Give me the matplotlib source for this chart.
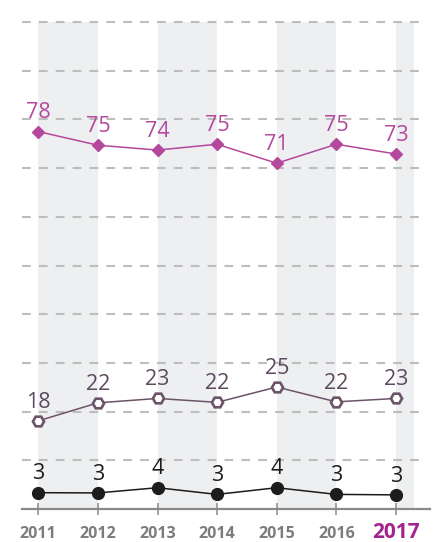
import matplotlib
matplotlib.use("Agg")
import matplotlib.pyplot as plt

plt.rcParams['font.family'] = ['Open Sans', 'DejaVu Sans']

years = [2011, 2012, 2013, 2014, 2015, 2016, 2017]
year_labels = ['2011', '2012', '2013', '2014', '2015', '2016', '2017']
pink_values = [77.5, 74.7, 73.7, 74.9, 71.0, 74.9, 72.9]
hex_values = [18.1, 21.8, 22.7, 21.9, 25.05, 22.0, 22.7]
black_values = [3.35, 3.3, 4.37, 3.0, 4.37, 3.0, 2.9]
grid_values = [10, 20, 30, 40, 50, 60, 70, 80, 90, 100]

PINK = '#b4489c'
HEX = '#6b5468'
HEX_TXT = '#5e4a5e'
BLACK = '#1c1c1c'
GRAY = '#7c7c7c'
PURPLE = '#a3238e'
BAND = '#eeeff1'
GRID = '#bdbdbd'

fig = plt.figure(figsize=(4.38, 5.42), dpi=100)
ax = fig.add_axes([21.7 / 438, (542 - 509) / 542, (430 - 21.7) / 438, (509 - 22) / 542])
x_left, x_right = 2010.7215, 2017.572
ax.set_xlim(x_left, x_right)
ax.set_ylim(0, 100)

# background bands
for i, y in enumerate(years):
    if i % 2 == 0:
        end = y + 1 if y + 1 <= years[-1] else y + 0.30
        ax.axvspan(y, end, ymin=0, ymax=1, color=BAND, lw=0, zorder=0)

# dashed gridlines
for g in grid_values:
    ax.plot([x_left, 2017.43], [g, g], color=GRID, lw=1.5,
            linestyle=(0, (4.2, 3.9)), zorder=1, solid_capstyle='butt',
            dash_capstyle='butt', clip_on=False)

# series
ax.plot(years, pink_values, color=PINK, lw=1.1, marker='D', ms=6.6,
        mec=PINK, mfc=PINK, zorder=4, clip_on=False)
ax.plot(years, hex_values, color=HEX, lw=1.1, marker='H', ms=8,
        mec=HEX, mfc='white', mew=1.9, zorder=4, clip_on=False)
ax.plot(years, black_values, color=BLACK, lw=1.1, marker='o', ms=8.5,
        mec=BLACK, mfc=BLACK, zorder=4, clip_on=False)

for vals, col in [(pink_values, PINK), (hex_values, HEX_TXT), (black_values, BLACK)]:
    for x, v in zip(years, vals):
        ax.annotate(f"{round(v)}", (x, v), xytext=(0, 9.6), textcoords='offset points',
                    ha='center', va='baseline', fontsize=15.5, color=col, zorder=5)

for s in ['top', 'right', 'left']:
    ax.spines[s].set_visible(False)
ax.spines['bottom'].set_color('#8a8a8a')
ax.spines['bottom'].set_linewidth(1.6)
ax.set_yticks([])
ax.set_xticks(years)
ax.set_xticklabels(year_labels)
ax.tick_params(axis='x', direction='inout', length=8.6, width=1.1, color='#8a8a8a', pad=16.6)
for lbl in ax.get_xticklabels():
    lbl.set_verticalalignment('baseline')
    if lbl.get_text() == '2017':
        lbl.set_color(PURPLE)
        lbl.set_fontsize(15)
        lbl.set_fontweight('bold')
    else:
        lbl.set_color(GRAY)
        lbl.set_fontsize(11.5)
        lbl.set_fontweight('bold')

fig.savefig('out.png', dpi=100, facecolor='white')
